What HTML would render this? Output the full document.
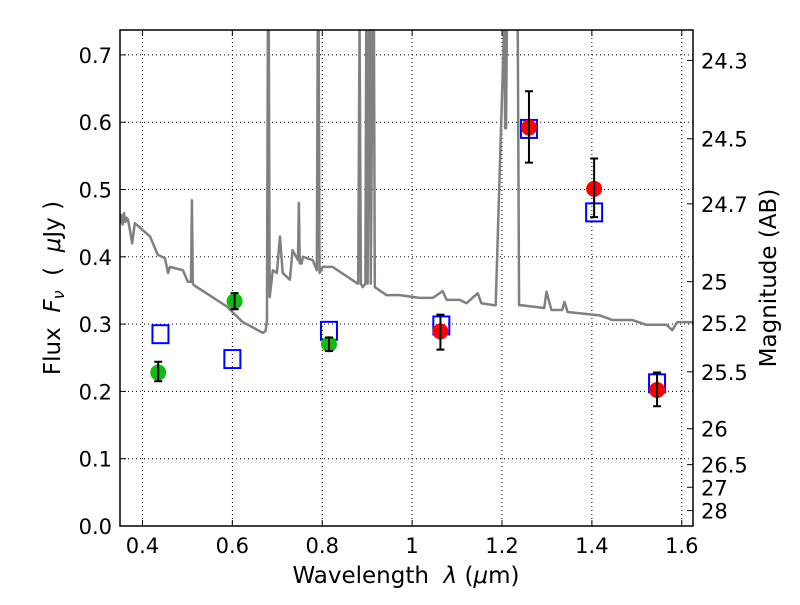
<!DOCTYPE html>
<html><head><meta charset="utf-8"><style>
body{margin:0;background:#fff}
svg text{font-family:"DejaVu Sans","Liberation Sans",sans-serif;fill:#000}
</style></head><body>
<svg id="c" width="800" height="600" xmlns="http://www.w3.org/2000/svg"></svg>
<script>
const specW=[0.35,0.353,0.356,0.359,0.362,0.365,0.368,0.372,0.377,0.383,0.417,0.434,0.45,0.457,0.461,0.49,0.501,0.508,0.51,0.512,0.514,0.588,0.623,0.668,0.674,0.677,0.679,0.681,0.683,0.69,0.699,0.706,0.712,0.728,0.734,0.746,0.748,0.750,0.754,0.757,0.779,0.788,0.790,0.792,0.794,0.801,0.823,0.877,0.880,0.883,0.886,0.89,0.896,0.898,0.901,0.904,0.906,0.908,0.912,0.915,0.917,0.943,0.972,1.017,1.046,1.068,1.077,1.106,1.121,1.146,1.154,1.183,1.186,1.205,1.207,1.209,1.211,1.235,1.238,1.243,1.294,1.299,1.31,1.334,1.339,1.346,1.417,1.446,1.49,1.521,1.566,1.579,1.59,1.617,1.625];
const specF=[0.450,0.462,0.448,0.465,0.452,0.458,0.455,0.44,0.42,0.45,0.43,0.403,0.398,0.376,0.385,0.38,0.363,0.363,0.484,0.361,0.358,0.326,0.303,0.287,0.29,0.306,0.75,0.75,0.34,0.38,0.376,0.43,0.376,0.366,0.41,0.395,0.48,0.39,0.39,0.40,0.395,0.38,0.75,0.75,0.376,0.385,0.385,0.361,0.36,0.75,0.36,0.355,0.36,0.75,0.36,0.75,0.75,0.36,0.75,0.75,0.355,0.343,0.343,0.339,0.339,0.349,0.336,0.336,0.331,0.346,0.331,0.328,0.328,0.75,0.591,0.591,0.75,0.75,0.328,0.328,0.324,0.348,0.321,0.321,0.333,0.318,0.313,0.306,0.306,0.299,0.299,0.291,0.303,0.303,0.303];
const obsW=[0.435,0.605,0.815,1.063,1.26,1.405,1.545];
const obsF=[0.228,0.334,0.270,0.289,0.592,0.501,0.202];
const errLo=[0.215,0.322,0.260,0.262,0.540,0.459,0.178];
const errHi=[0.244,0.346,0.280,0.314,0.646,0.546,0.228];
const obsColor=['#11bb11','#11bb11','#11bb11','#ff0000','#ff0000','#ff0000','#ff0000'];
const modW=[0.44,0.60,0.815,1.065,1.26,1.405,1.545];
const modF=[0.285,0.248,0.290,0.298,0.590,0.466,0.212];
const xTicks=[0.4,0.6,0.8,1.0,1.2,1.4,1.6];
const xTickLabels=['0.4','0.6','0.8','1','1.2','1.4','1.6'];
const yTicks=[0,0.1,0.2,0.3,0.4,0.5,0.6,0.7];
const yTickLabels=['0.0','0.1','0.2','0.3','0.4','0.5','0.6','0.7'];
const mags=[24.3,24.5,24.7,25,25.2,25.5,26,26.5,27,28];
const magLabels=['24.3','24.5','24.7','25','25.2','25.5','26','26.5','27','28'];
const L=120,R=693,T=30,B=526,X0=0.35,X1=1.625,Y0=0,Y1=0.737;
const sx=v=>L+(v-X0)/(X1-X0)*(R-L);
const sy=v=>B-(v-Y0)/(Y1-Y0)*(B-T);
const svg=document.getElementById('c');
const NS='http://www.w3.org/2000/svg';
function mk(t,a,p){const e=document.createElementNS(NS,t);for(const k in a)e.setAttribute(k,a[k]);(p||svg).appendChild(e);return e;}
const defs=mk('defs',{});const cp=mk('clipPath',{id:'pc'},defs);mk('rect',{x:L,y:T,width:R-L,height:B-T},cp);
const grid=mk('g',{});


xTicks.forEach((v,i)=>{
 mk('line',{x1:sx(v),x2:sx(v),y1:T,y2:B,stroke:'#000','stroke-width':1,'stroke-dasharray':'1,3'},grid);
 mk('line',{x1:sx(v),x2:sx(v),y1:B,y2:B-6,stroke:'#000'},grid);
 mk('line',{x1:sx(v),x2:sx(v),y1:T,y2:T+6,stroke:'#000'},grid);
 const t=mk('text',{x:sx(v),y:B+27,'text-anchor':'middle','font-size':21});t.textContent=xTickLabels[i];
 
 
});
yTicks.forEach((v,i)=>{
 mk('line',{x1:L,x2:R,y1:sy(v),y2:sy(v),stroke:'#000','stroke-width':1,'stroke-dasharray':'1,3'},grid);
 mk('line',{x1:L,x2:L+6,y1:sy(v),y2:sy(v),stroke:'#000'},grid);
 const t=mk('text',{x:L-8,y:sy(v)+8,'text-anchor':'end','font-size':21});t.textContent=yTickLabels[i];
 
 
});
mags.forEach((m,i)=>{
 const f=Math.pow(10,(23.9-m)/2.5);const y=sy(f);
 mk('line',{x1:R-6,x2:R,y1:y,y2:y,stroke:'#000'});
 const t=mk('text',{x:R+8,y:y+8,'font-size':21});t.textContent=magLabels[i];
 
 
});
const g=mk('g',{'clip-path':'url(#pc)'});
const sp=mk('polyline',{points:specW.map((w,i)=>sx(w)+','+sy(specF[i])).join(' '),fill:'none',stroke:'#808080','stroke-width':2.5,'stroke-linejoin':'round'},g);


modW.forEach((w,i)=>{
 const r=mk('rect',{x:sx(w)-8,y:sy(modF[i])-9,width:16,height:18,fill:'none',stroke:'#0000ff','stroke-width':2},g);
 
 
});
obsW.forEach((w,i)=>{
 const c=mk('circle',{cx:sx(w),cy:sy(obsF[i]),r:8,fill:obsColor[i]},g);
 
 
 const x=sx(w),a=sy(errLo[i]),b=sy(errHi[i]);
 const e=mk('path',{d:`M${x},${a}V${b}M${x-4},${a}H${x+4}M${x-4},${b}H${x+4}`,stroke:'#000','stroke-width':2,fill:'none'},g);
 
 
});
const fr=mk('rect',{x:L,y:T,width:R-L,height:B-T,fill:'none',stroke:'#000','stroke-width':1.5});


let t=mk('text',{x:406,y:583,'text-anchor':'middle','font-size':23});
t.innerHTML='Wavelength\u00a0\u00a0<tspan font-style="italic">λ</tspan> (<tspan font-style="italic">μ</tspan>m)';


t=mk('text',{x:0,y:0,'text-anchor':'middle','font-size':23,transform:`translate(60,${(T+B)/2+10}) rotate(-90)`});
t.innerHTML='Flux\u00a0\u00a0<tspan font-style="italic">F</tspan><tspan font-style="italic" font-size="16" dy="4">ν</tspan><tspan dy="-4">\u00a0\u00a0(\u00a0\u00a0</tspan><tspan font-style="italic">μ</tspan>Jy )';


t=mk('text',{x:0,y:0,'text-anchor':'middle','font-size':23,transform:`translate(776,${(T+B)/2}) rotate(-90)`});
t.textContent='Magnitude (AB)';


</script>
</body></html>
